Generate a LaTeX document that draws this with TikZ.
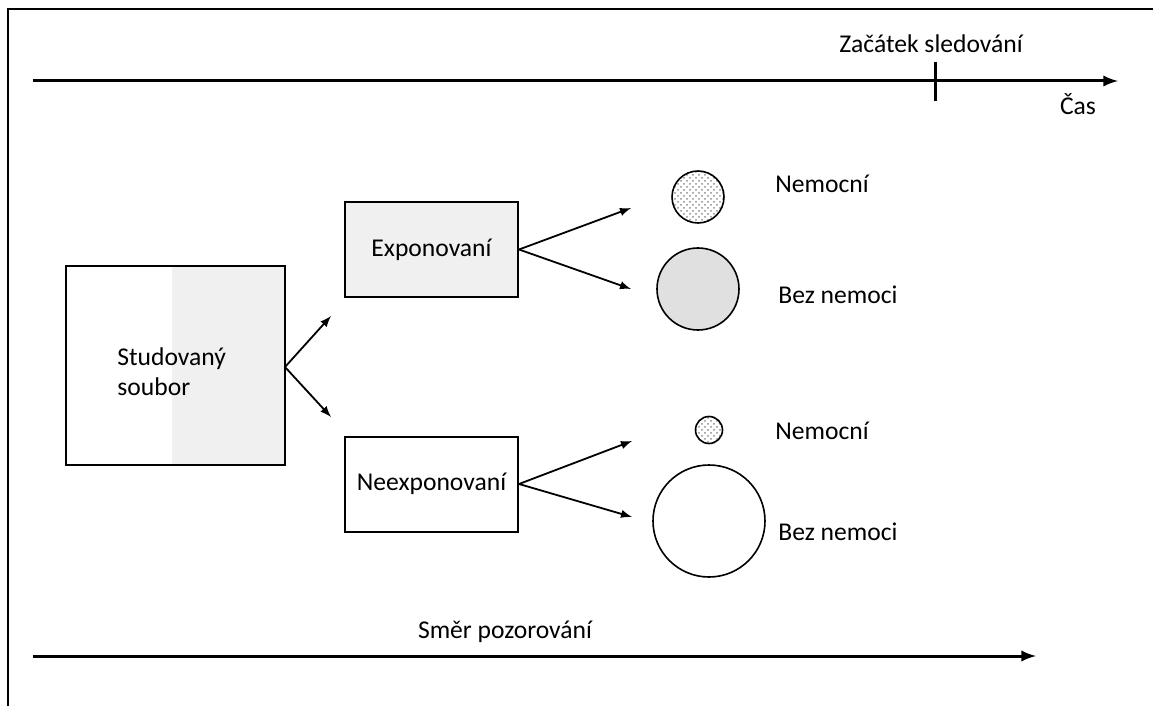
\documentclass[tikz,border=0pt]{standalone}
\usepackage{fontspec}
\setmainfont{Carlito}
\usetikzlibrary{arrows,patterns}

\tikzset{
  box/.style={draw, line width=1pt, minimum width=86.5pt, minimum height=47.5pt, inner sep=0pt},
  group/.style={circle, draw, line width=0.8pt, inner sep=0pt},
  label/.style={anchor=west, inner sep=0pt},
  axis/.style={line width=1.5pt, ->, >=latex},
  branch/.style={line width=0.9pt, ->, >=latex}
}

\begin{document}
\begin{tikzpicture}[x=0.5pt, y=-0.5pt, font=\fontsize{12.8}{15}\selectfont]
			\useasboundingbox (0,0) rectangle (1153,706);
			\draw[line width=1pt] (1160,9) -- (8,9) -- (8,710);

			% time axis
			\coordinate (casStart) at (33,81);
			\coordinate (casEnd) at (1118,81);
			\draw[axis] (casStart) -- (casEnd);
			\coordinate (tickTop) at (935,62);
			\coordinate (tickBot) at (935,101);
			\draw[line width=1.5pt] (tickTop) -- (tickBot);
			\node (zacatek) at (931,44) {Začátek sledování};
			\node (cas) at (1078,104) {Čas};

			% study group
			\fill[black!6] (172,266) rectangle (285,465);
			\draw[line width=1pt] (66,266) rectangle (285,465);
			\node[anchor=west, align=left, inner sep=0pt] (soubor) at (117,372) {Studovaný\\soubor};
			\coordinate (soubor out) at (285,367);
			\coordinate (toExp) at (331,316);
			\coordinate (toNeexp) at (331,417);
			\draw[branch] (soubor out) -- (toExp);
			\draw[branch] (soubor out) -- (toNeexp);

			% exposed
			\node[box, fill=black!6] (exp) at (431.5,249.5) {Exponovaní};
			\coordinate (expNem) at (631,208);
			\coordinate (expBez) at (631,289);
			\draw[branch] (exp.east) -- (expNem);
			\draw[branch] (exp.east) -- (expBez);
			\node[group, minimum size=26pt, fill=white, pattern=crosshatch dots, pattern color=black!45] (nem1) at (698,197) {};
			\node[group, minimum size=41pt, fill=black!12] (bez1) at (698,289) {};
			\node[label] (nemLab1) at (775,184) {Nemocní};
			\node[label] (bezLab1) at (778,295) {Bez nemoci};

			% unexposed
			\node[box] (neexp) at (431.5,484) {Neexponovaní};
			\coordinate (neexpNem) at (632,441);
			\coordinate (neexpBez) at (632,517);
			\draw[branch] (neexp.east) -- (neexpNem);
			\draw[branch] (neexp.east) -- (neexpBez);
			\node[group, minimum size=13.5pt, fill=white, pattern=crosshatch dots, pattern color=black!45] (nem2) at (709,430) {};
			\node[group, minimum size=56pt] (bez2) at (709,521) {};
			\node[label] (nemLab2) at (775,431) {Nemocní};
			\node[label] (bezLab2) at (778,532) {Bez nemoci};

			% direction of observation
			\coordinate (smerStart) at (33,656);
			\coordinate (smerEnd) at (1036,656);
			\draw[axis] (smerStart) -- (smerEnd);
			\node (smer) at (505,632) {Směr pozorování};
		\end{tikzpicture}
\end{document}
